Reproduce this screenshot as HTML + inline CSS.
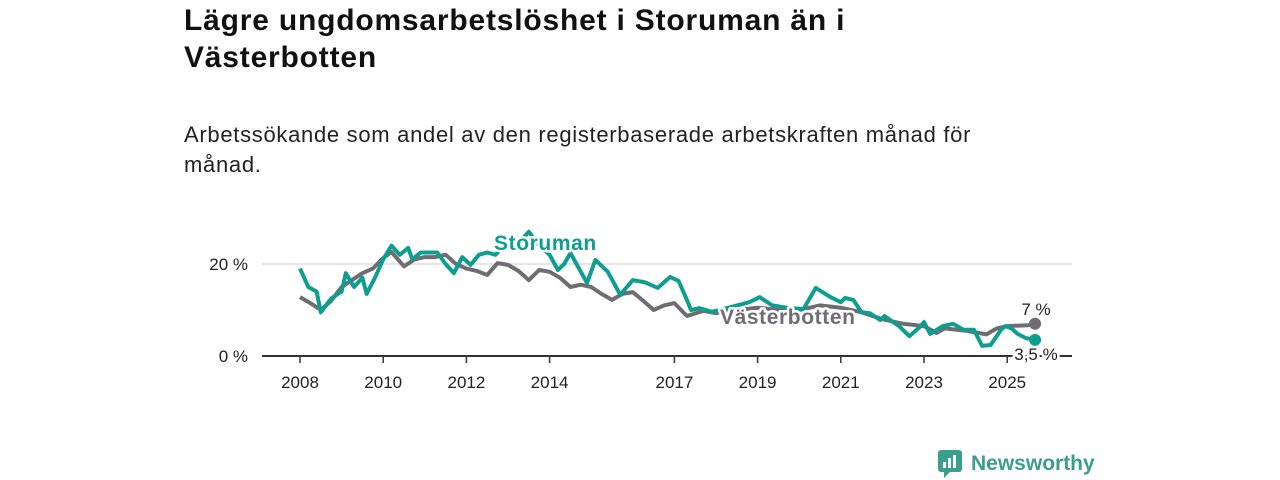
<!DOCTYPE html>
<html><head><meta charset="utf-8">
<style>
body{margin:0;width:1280px;height:480px;background:#fff;font-family:"Liberation Sans",sans-serif;overflow:hidden;position:relative;color:#111}
h1{position:absolute;left:184px;top:2px;margin:0;font-size:30px;line-height:37px;font-weight:bold;width:760px;letter-spacing:0.8px}
.sub{position:absolute;left:184px;top:120px;margin:0;font-size:22px;line-height:30px;width:830px;color:#222;letter-spacing:0.7px}
svg{position:absolute;left:0;top:0}
</style></head><body>
<h1>Lägre ungdomsarbetslöshet i Storuman än i Västerbotten</h1>
<p class="sub">Arbetssökande som andel av den registerbaserade arbetskraften månad för månad.</p>
<svg id="chart" width="1280" height="480"></svg>
<script>
const yearTicks=[2008,2010,2012,2014,2017,2019,2021,2023,2025];
const yTicks=[0,20];
const vbYears=[2008,2008.25,2008.5,2008.75,2009,2009.25,2009.5,2009.75,2010,2010.2,2010.5,2010.75,2011,2011.25,2011.5,2011.75,2012,2012.25,2012.5,2012.75,2013,2013.25,2013.5,2013.75,2014,2014.25,2014.5,2014.75,2015,2015.25,2015.5,2015.75,2016,2016.25,2016.5,2016.75,2017,2017.3,2017.7,2018,2018.5,2019,2019.5,2020,2020.5,2021,2021.5,2022,2022.5,2023,2023.3,2023.5,2024,2024.5,2024.75,2025,2025.5,2025.67];
const vbVals=[12.8,11.5,10,12,15,16.5,18,19,21.3,22.6,19.5,21,21.5,21.5,22,20,19,18.5,17.6,20.2,19.8,18.5,16.5,18.7,18.3,17,15,15.5,15,13.5,12.2,13.5,13.9,12,10,11,11.5,8.7,9.8,9.3,10,10.5,10,10,11,10.5,9.5,8,7,6.5,5,6,5.5,4.7,6,6.5,6.7,7];
const stYears=[2008,2008.2,2008.4,2008.5,2008.75,2009,2009.1,2009.3,2009.5,2009.6,2009.8,2010,2010.2,2010.4,2010.6,2010.7,2010.9,2011.2,2011.3,2011.5,2011.7,2011.9,2012.1,2012.3,2012.5,2012.7,2012.9,2013.1,2013.3,2013.5,2013.75,2014,2014.2,2014.35,2014.5,2014.9,2015.1,2015.4,2015.7,2016,2016.3,2016.6,2016.9,2017.1,2017.3,2017.4,2017.6,2017.9,2018.3,2018.8,2019.05,2019.35,2019.7,2020.1,2020.4,2020.75,2021,2021.1,2021.3,2021.5,2021.7,2021.95,2022.05,2022.4,2022.65,2022.9,2023.0,2023.15,2023.45,2023.7,2023.95,2024.2,2024.4,2024.6,2024.85,2024.95,2025.1,2025.25,2025.45,2025.58,2025.67];
const stVals=[19,15,14,9.5,12.5,14,18,15,17,13.5,17,21,24,22,23.5,21,22.5,22.5,22.5,20,18,21.5,19.8,22,22.5,22,24,23,25,27,24,22,18.7,20,22.4,15.9,20.9,18.3,13.3,16.5,16,14.8,17.2,16.3,12.2,10,10.4,9.6,10.5,11.7,12.8,11,10.5,10.2,14.8,12.8,11.7,12.6,12.2,9.5,9.3,7.8,8.7,6.5,4.3,6.3,7.4,4.8,6.5,7,5.7,5.7,2.2,2.4,5.7,6.5,6,4.8,3.9,3.7,3.5];
const svg=document.getElementById('chart');
const NS='http://www.w3.org/2000/svg';
const X=y=>300+(y-2008)*41.6;
const Y=v=>356-v*4.6;
function mk(t,a,p){const e=document.createElementNS(NS,t);for(const k in a)e.setAttribute(k,a[k]);(p||svg).appendChild(e);return e;}
yTicks.forEach(v=>{
 const l=mk('line',{x1:262,x2:1072,y1:Y(v),y2:Y(v),stroke:v===0?'#333':'#ddd','stroke-width':v===0?2:1.5});
 
 
 const t=mk('text',{x:248,y:Y(v)+6,'text-anchor':'end','font-size':17,fill:'#222'});
 t.textContent=v+' %';
 
 
});
yearTicks.forEach(yr=>{
 const l=mk('line',{x1:X(yr),x2:X(yr),y1:356,y2:363,stroke:'#333','stroke-width':1.5});
 
 
 const t=mk('text',{x:X(yr),y:388,'text-anchor':'middle','font-size':17,fill:'#222'});
 t.textContent=yr;
 
 
});
function series(xs,vs,col,name){
 const d=xs.map((x,i)=>(i?'L':'M')+X(x).toFixed(1)+','+Y(vs[i]).toFixed(1)).join('');
 const p=mk('path',{d:d,fill:'none',stroke:col,'stroke-width':4,'stroke-linejoin':'round'});
 
 
 const n=xs.length-1;
 const c=mk('circle',{cx:X(xs[n]),cy:Y(vs[n]),r:6,fill:col});
 
 
}
series(vbYears,vbVals,'#6f6d71','vasterbotten');
series(stYears,stVals,'#0e9e91','storuman');
function label(txt,x,y,col,size,weight,anchor,name,ls){
 const t=mk('text',{x:x,y:y,fill:col,'font-size':size,'font-weight':weight,'text-anchor':anchor||'start',stroke:'#fff','stroke-width':5,'paint-order':'stroke','stroke-linejoin':'round','letter-spacing':ls||0});
 t.textContent=txt;
 
 
}
label('Storuman',494,250,'#0e9e91',21,'bold','start','storuman-label','0.6');
label('Västerbotten',720,324,'#6f6d71',21,'bold','start','vasterbotten-label','0.6');
label('7 %',1036,315,'#222',17,'normal','middle','vasterbotten-end-value');
label('3,5 %',1036,360,'#222',17,'normal','middle','storuman-end-value');
const g=mk('g',{});


mk('rect',{x:938,y:450,width:24,height:22,rx:3,fill:'#3a9e8f'},g);
mk('path',{d:'M944,471 L944,478 L951,471 Z',fill:'#3a9e8f'},g);
[[943,462,3,6],[948,458,3,10],[953,455,3,13]].forEach(r=>mk('rect',{x:r[0],y:r[1],width:r[2],height:r[3],fill:'#fff'},g));
const lt=mk('text',{x:971,y:470,'font-size':21,'font-weight':'bold',fill:'#3a9e8f'},g);
lt.textContent='Newsworthy';
</script>
</body></html>
